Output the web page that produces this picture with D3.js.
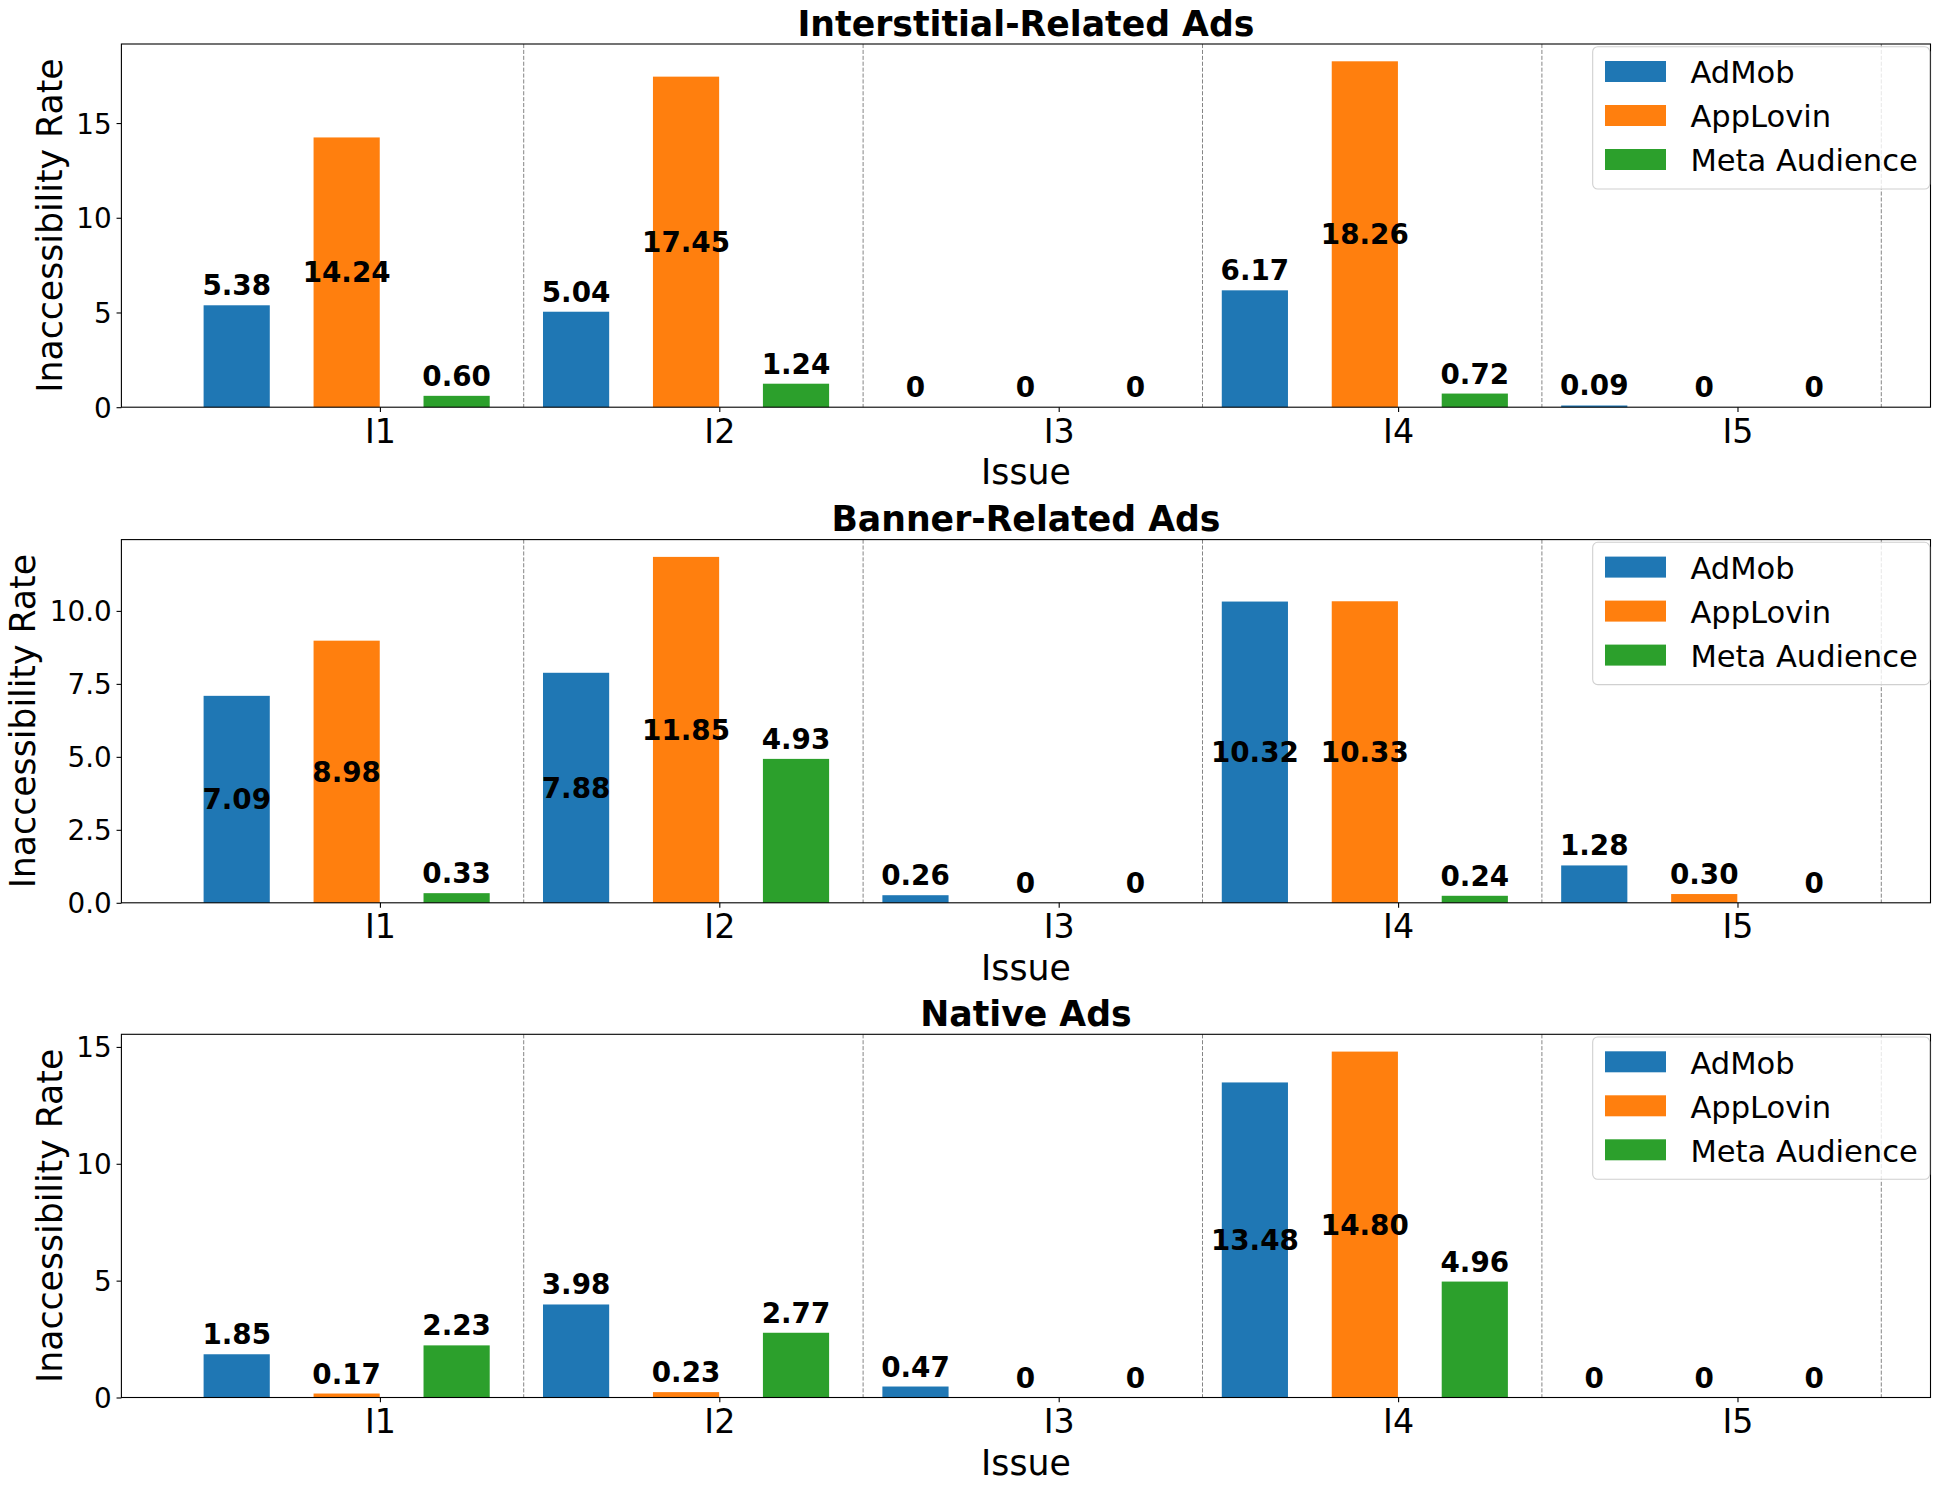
<!DOCTYPE html>
<html><head><meta charset="utf-8">
<script src="https://cdn.jsdelivr.net/npm/d3@7"></script>
<style>
body{margin:0;background:#fff}
text{font-family:"DejaVu Sans",sans-serif}
</style>
</head><body>
<svg id="chart" width="1939" height="1489"></svg>
<script>
// ---------------- data ----------------
const issues = ["I1", "I2", "I3", "I4", "I5"];
const networks = ["AdMob", "AppLovin", "Meta Audience"];
const colors = ["#1f77b4", "#ff7f0e", "#2ca02c"];
const panelTitles = ["Interstitial-Related Ads", "Banner-Related Ads", "Native Ads"];

const interstitialAdMob    = [5.38, 5.04, 0, 6.17, 0.09];
const interstitialAppLovin = [14.24, 17.45, 0, 18.26, 0];
const interstitialMeta     = [0.60, 1.24, 0, 0.72, 0];

const bannerAdMob    = [7.09, 7.88, 0.26, 10.32, 1.28];
const bannerAppLovin = [8.98, 11.85, 0, 10.33, 0.30];
const bannerMeta     = [0.33, 4.93, 0, 0.24, 0];

const nativeAdMob    = [1.85, 3.98, 0.47, 13.48, 0];
const nativeAppLovin = [0.17, 0.23, 0, 14.80, 0];
const nativeMeta     = [2.23, 2.77, 0, 4.96, 0];

const yTicksInterstitial = [0, 5, 10, 15];
const yTicksBanner = [0, 2.5, 5, 7.5, 10];
const yTicksNative = [0, 5, 10, 15];

const xLabel = "Issue";
const yLabel = "Inaccessibility Rate";

const panels = [
  {title: panelTitles[0], series: [interstitialAdMob, interstitialAppLovin, interstitialMeta], ticks: yTicksInterstitial, fmt: d3.format("d")},
  {title: panelTitles[1], series: [bannerAdMob, bannerAppLovin, bannerMeta], ticks: yTicksBanner, fmt: d3.format(".1f")},
  {title: panelTitles[2], series: [nativeAdMob, nativeAppLovin, nativeMeta], ticks: yTicksNative, fmt: d3.format("d")}
];

// ---------------- layout ----------------
const svg = d3.select("#chart");
const left = 121.4, right = 1930.5;
const tops = [44, 539.6, 1034.3], ph = 363.2;
const x = d3.scaleLinear().domain([-0.7617, 4.5687]).range([left, right]);
const offs = [-0.422, -0.098, 0.226], bw = 0.195, sepOff = 0.4237;
const xTickFs = 33.3, yTickFs = 27.8, labelFs = 34.7, titleFs = 34.7, valFs = 27.8, legFs = 30.56;

panels.forEach((p, pi) => {
  const top = tops[pi], bottom = top + ph;
  const ymax = d3.max(p.series.flat()) * 1.05;
  const y = d3.scaleLinear().domain([0, ymax]).range([bottom, top]);
  const g = svg.append("g");

  // separators
  g.selectAll("line.sep").data(d3.range(issues.length)).join("line")
    .attr("class", "sep")
    .attr("x1", i => x(i + sepOff)).attr("x2", i => x(i + sepOff))
    .attr("y1", top).attr("y2", bottom)
    .attr("stroke", "#858585").attr("stroke-width", 1)
    .attr("stroke-dasharray", "4.1,1.8");

  // bars
  p.series.forEach((vals, si) => {
    g.selectAll(null).data(vals).join("rect")
      .attr("x", (v, i) => x(i + offs[si] - bw / 2))
      .attr("width", x(bw) - x(0))
      .attr("y", v => y(v))
      .attr("height", v => bottom - y(v))
      .attr("fill", colors[si]);
  });

  // value labels
  p.series.forEach((vals, si) => {
    g.selectAll(null).data(vals).join("text")
      .attr("x", (v, i) => x(i + offs[si]))
      .attr("y", v => v > 6.5 ? y(v / 2) : y(v) - 10)
      .attr("dy", v => v > 6.5 ? "0.36em" : null)
      .attr("text-anchor", "middle")
      .attr("font-weight", "bold")
      .attr("font-size", valFs)
      .attr("fill", "#000")
      .text(v => v === 0 ? "0" : v.toFixed(2));
  });

  // x axis
  const xa = g.append("g").attr("transform", `translate(0,${bottom})`)
    .call(d3.axisBottom(x).tickValues(d3.range(issues.length)).tickFormat(i => issues[i])
      .tickSize(4.86).tickPadding(4.86).tickSizeOuter(0));
  xa.select(".domain").remove();
  xa.selectAll("line").attr("stroke", "#000").attr("stroke-width", 1.1);
  xa.selectAll("text").attr("font-size", xTickFs).attr("font-family", "DejaVu Sans")
    .attr("dy", null).attr("y", 35.4).attr("fill", "#000");

  // y axis
  const ya = g.append("g").attr("transform", `translate(${left},0)`)
    .call(d3.axisLeft(y).tickValues(p.ticks).tickFormat(p.fmt)
      .tickSize(4.86).tickPadding(4.86).tickSizeOuter(0));
  ya.select(".domain").remove();
  ya.selectAll("line").attr("stroke", "#000").attr("stroke-width", 1.1);
  ya.selectAll("text").attr("font-size", yTickFs).attr("font-family", "DejaVu Sans")
    .attr("dy", "0.36em").attr("fill", "#000");

  let maxW = 0;
  ya.selectAll("text").each(function () { maxW = Math.max(maxW, this.getComputedTextLength()); });
  const labX = left - 9.72 - maxW - 14.5;

  // frame
  g.append("rect").attr("x", left).attr("y", top).attr("width", right - left).attr("height", ph)
    .attr("fill", "none").attr("stroke", "#000").attr("stroke-width", 1.1);

  // axis labels
  g.append("text").attr("x", (left + right) / 2).attr("y", bottom + 77)
    .attr("text-anchor", "middle").attr("font-size", labelFs).text(xLabel);
  g.append("text").attr("transform", `translate(${labX},${(top + bottom) / 2}) rotate(-90)`)
    .attr("text-anchor", "middle").attr("font-size", labelFs).text(yLabel);

  // title
  g.append("text").attr("x", (left + right) / 2).attr("y", top - 8.3)
    .attr("text-anchor", "middle").attr("font-size", titleFs).attr("font-weight", "bold")
    .text(p.title);

  // legend
  const lg = g.append("g").attr("transform", `translate(1592.7,${top})`);
  lg.append("rect").attr("x", 0).attr("y", 2.7).attr("width", 337).attr("height", 142.3)
    .attr("rx", 5).attr("fill", "#fff").attr("fill-opacity", 0.8)
    .attr("stroke", "#d0d0d0").attr("stroke-width", 1.1);
  networks.forEach((n, k) => {
    lg.append("rect").attr("x", 12.3).attr("y", 17 + 44 * k).attr("width", 61).attr("height", 21)
      .attr("fill", colors[k]);
    lg.append("text").attr("x", 97.7).attr("y", 17 + 44 * k + 10.5 + 11.8)
      .attr("font-size", legFs).attr("fill", "#000").text(n);
  });
});
</script>
</body></html>
